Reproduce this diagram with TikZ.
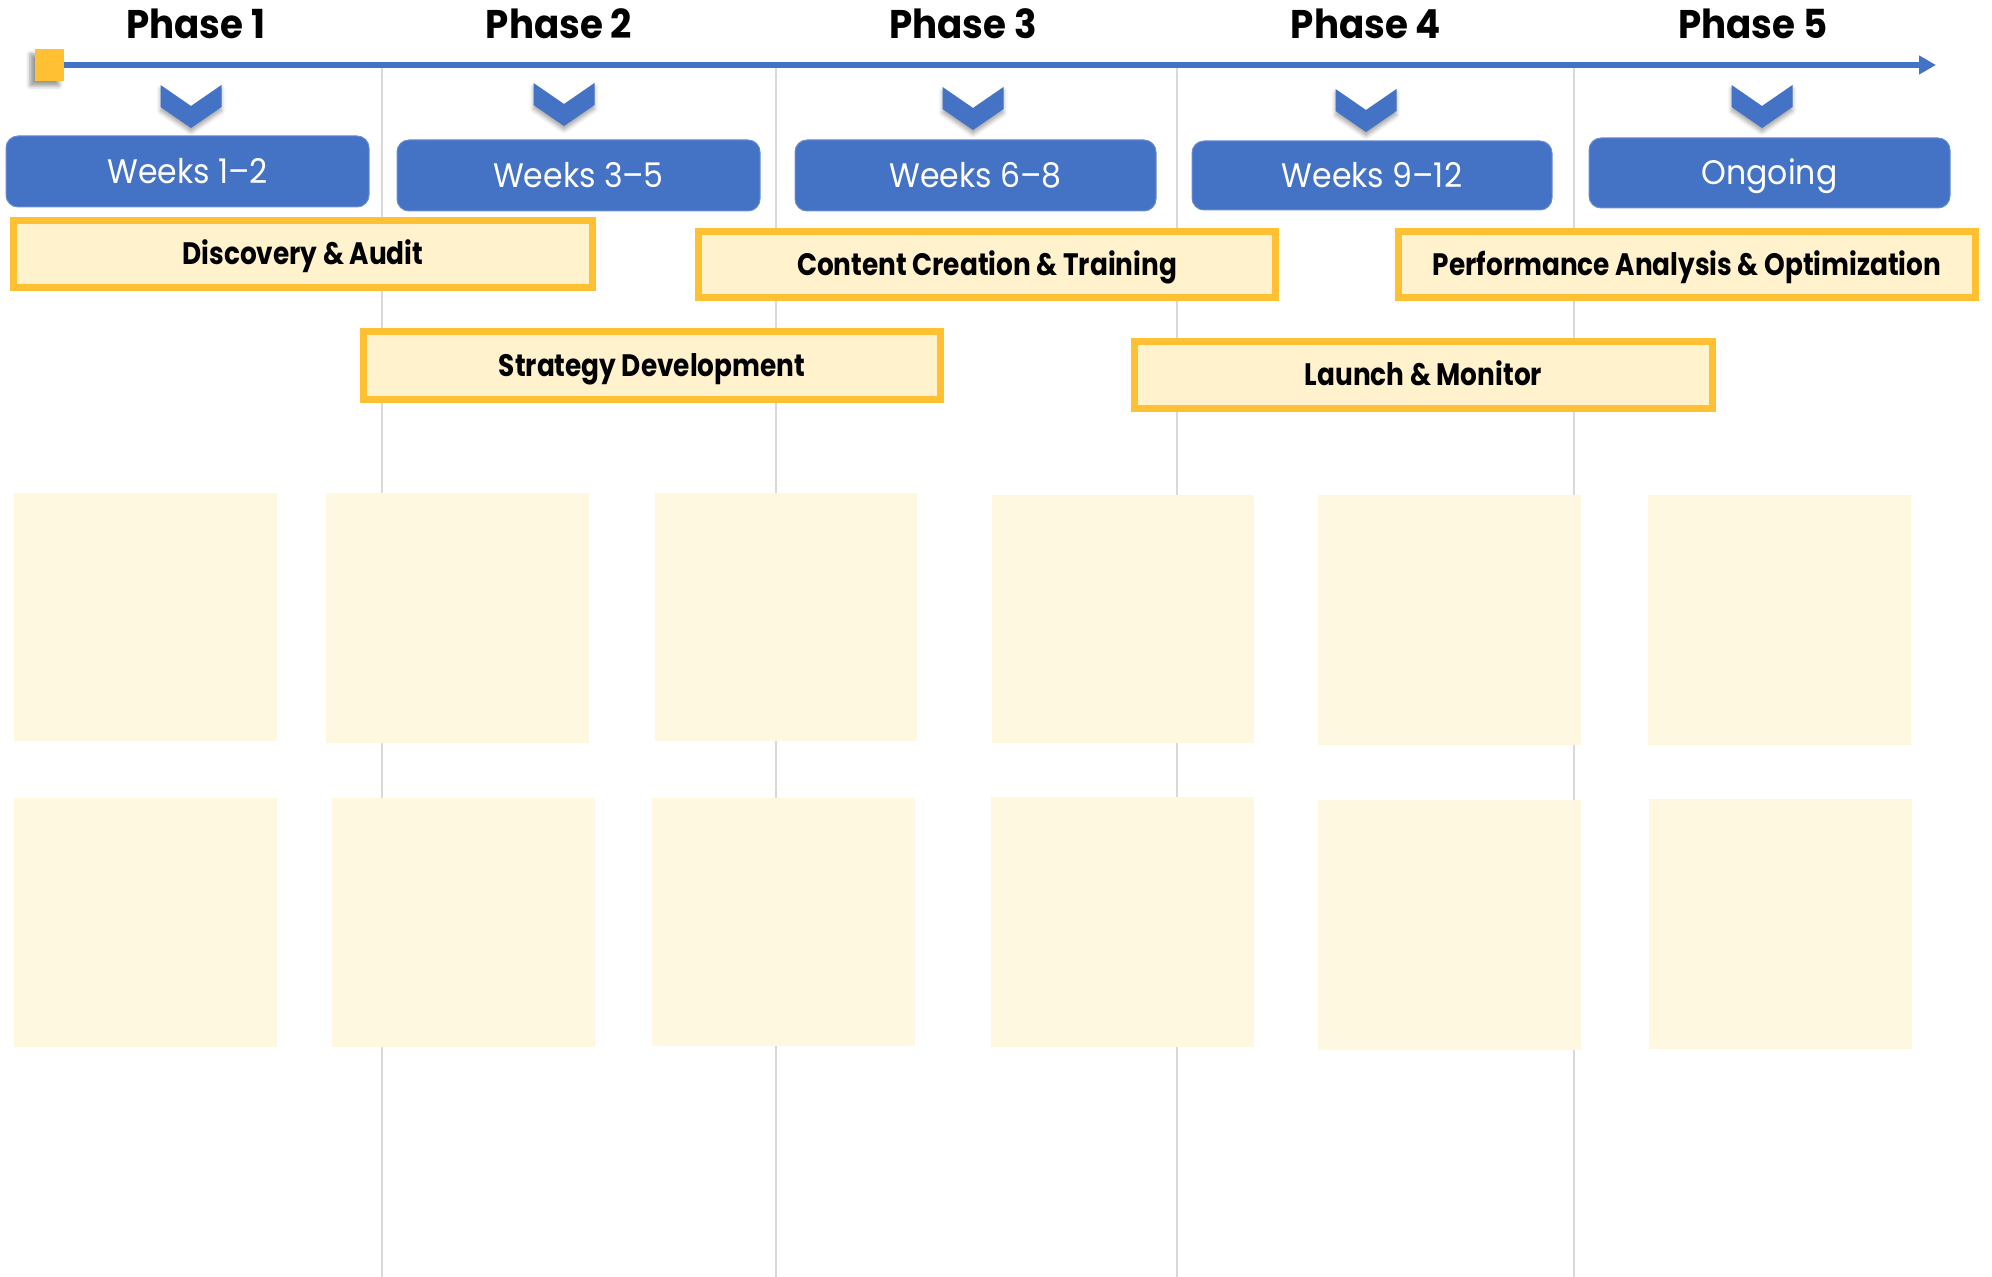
\documentclass[tikz,border=0pt]{standalone}
\usepackage{fontspec}
\setmainfont{Poppins}
\newfontfamily\phasefont{Poppins}[FakeStretch=0.93]
\newfontfamily\weekfont{Poppins}[FakeStretch=0.927]
\newfontfamily\barfont{Poppins}[FakeStretch=0.85]
\usetikzlibrary{arrows.meta,shadows.blur}
\definecolor{tlblue}{HTML}{4472C4}
\definecolor{gold}{HTML}{FFC033}
\definecolor{barfill}{HTML}{FFF2CC}
\definecolor{notefill}{HTML}{FFF8E1}
\definecolor{gridgray}{HTML}{D9D9D9}
\tikzset{
  gridline/.style={draw=gridgray, line width=1pt},
  phaselabel/.style={font=\phasefont\bfseries\fontsize{20}{24}\selectfont, anchor=base, inner sep=0pt},
  weekbox/.style={fill=tlblue, draw=tlblue!80!white, line width=0.5pt, rounded corners=6pt, inner sep=0pt,
    text=white, font=\weekfont\fontsize{17}{20}\selectfont, text height=11.9pt, text depth=0pt},
  phasebar/.style={fill=barfill, draw=gold, line width=3.5pt, inner sep=0pt,
    font=\barfont\bfseries\fontsize{15.5}{18}\selectfont, text height=10.85pt, text depth=0pt},
  note/.style={fill=notefill, draw=none, inner sep=0pt},
  chev/.style={fill=tlblue, draw=none, blur shadow={shadow xshift=0pt, shadow yshift=-2pt, shadow blur radius=2pt, shadow opacity=35}},
}
% box from corners (px units): name, x1, y1, x2, y2, style, text
\newcommand\pxbox[7]{%
  \pgfmathsetmacro\bw{(#4)-(#2)}%
  \pgfmathsetmacro\bh{(#5)-(#3)}%
  \node[#6, minimum width=\bw*0.5pt, minimum height=\bh*0.5pt] (#1) at ({((#2)+(#4))/2},{((#3)+(#5))/2}) {#7};%
}
\newcommand\chevron[3]{% name, center x, top y
  \fill[chev] (#2-30.5,#3) -- (#2,#3+21) -- (#2+30.5,#3) -- (#2+30.5,#3+22) -- (#2,#3+43) -- (#2-30.5,#3+22) -- cycle;
  \coordinate (#1) at (#2,#3+43);
}
\begin{document}
\begin{tikzpicture}[x=0.5pt,y=-0.5pt]
\useasboundingbox (0,0) rectangle (1992,1277);
% grid lines
\foreach \gx/\gn in {382/g1,776/g2,1177/g3,1574/g4}{
  \coordinate (\gn top) at (\gx,68);
  \coordinate (\gn bot) at (\gx,1277);
  \draw[gridline] (\gn top) -- (\gn bot);
}
% phase labels
\node[phaselabel] (p1) at (196,39) {Phase 1};
\node[phaselabel] (p2) at (559,39) {Phase 2};
\node[phaselabel] (p3) at (963,39) {Phase 3};
\node[phaselabel] (p4) at (1366,39) {Phase 4};
\node[phaselabel] (p5) at (1753,39) {Phase 5};
% timeline
\node[fill=gold, minimum width=14.5pt, minimum height=16pt, inner sep=0pt,
  blur shadow={shadow xshift=-2.5pt, shadow yshift=-2.5pt, shadow blur radius=2pt, shadow opacity=40}] (start) at (49.5,65) {};
\coordinate (tend) at (1936,65);
\draw[tlblue, line width=3pt, -{Triangle[length=8.5pt,width=9pt]}] (start.east) -- (tend);
% chevrons
\chevron{c1}{191}{85}
\chevron{c2}{564}{83}
\chevron{c3}{973}{87}
\chevron{c4}{1366}{89}
\chevron{c5}{1762}{85}
% week boxes
\pxbox{w1}{6}{136}{369}{207}{weekbox}{Weeks 1–2}
\pxbox{w2}{397}{140}{760}{211}{weekbox}{Weeks 3–5}
\pxbox{w3}{795}{140}{1156}{211}{weekbox}{Weeks 6–8}
\pxbox{w4}{1192}{141}{1552}{210}{weekbox}{Weeks 9–12}
\pxbox{w5}{1589}{138}{1950}{208}{weekbox}{Ongoing}
% phase bars (stroke centre line)
\pxbox{b1}{13.5}{220.5}{592.5}{287.5}{phasebar}{Discovery \& Audit}
\pxbox{b2}{363.5}{331.5}{940.5}{399.5}{phasebar}{Strategy Development}
\pxbox{b3}{698.5}{231.5}{1275.5}{297.5}{phasebar}{Content Creation \& Training}
\pxbox{b4}{1398.5}{231.5}{1975.5}{297.5}{phasebar}{Performance Analysis \& Optimization}
\pxbox{b5}{1134.5}{341.5}{1712.5}{408.5}{phasebar}{Launch \& Monitor}
% note boxes
\pxbox{n11}{14}{493}{277}{741}{note}{}
\pxbox{n12}{326}{493}{589}{743}{note}{}
\pxbox{n13}{655}{493}{917}{741}{note}{}
\pxbox{n14}{992}{495}{1254}{743}{note}{}
\pxbox{n15}{1318}{495}{1581}{745}{note}{}
\pxbox{n16}{1648}{495}{1911}{745}{note}{}
\pxbox{n21}{14}{798}{277}{1047}{note}{}
\pxbox{n22}{332}{798}{595}{1047}{note}{}
\pxbox{n23}{652}{798}{915}{1046}{note}{}
\pxbox{n24}{991}{797}{1254}{1047}{note}{}
\pxbox{n25}{1318}{800}{1581}{1050}{note}{}
\pxbox{n26}{1649}{799}{1912}{1049}{note}{}
\end{tikzpicture}
\end{document}
